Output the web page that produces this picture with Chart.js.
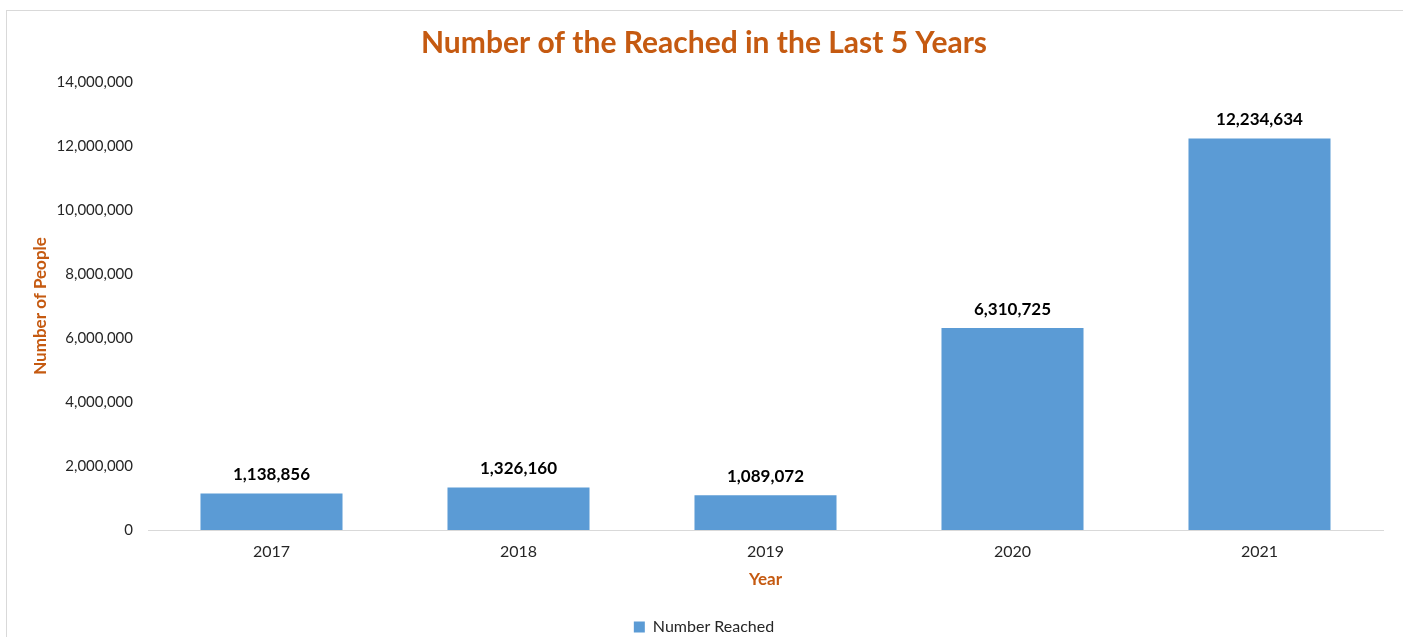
<!DOCTYPE html>
<html>
<head>
<meta charset="utf-8">
<script src="https://cdn.jsdelivr.net/npm/chart.js@4.4.0/dist/chart.umd.min.js"></script>
<style>
  html, body { margin: 0; padding: 0; background: #fff; overflow: hidden; }
  .frame { position: absolute; left: 6px; top: 10px; width: 1500px; height: 700px; border: 1px solid #d9d9d9; }
  .wrap { position: absolute; left: 0; top: 0; width: 1403px; height: 645px; }
</style>
</head>
<body>
<div class="frame"></div>
<div class="wrap"><canvas id="chart-reached"></canvas></div>
<script>
/* ── Datos ─────────────────────────────────────────── */
const years   = ['2017', '2018', '2019', '2020', '2021'];
const reached = [1138856, 1326160, 1089072, 6310725, 12234634];
const yTicks  = [0, 2000000, 4000000, 6000000, 8000000, 10000000, 12000000, 14000000];

const orange = '#C55A11', blue = '#5B9BD5', fontFam = 'Lato, "Open Sans", sans-serif';

/* ── Etiquetas encima de las barras ───────────────── */
const barLabels = {
  id: 'barLabels',
  afterDatasetsDraw(chart) {
    const ctx = chart.ctx;
    const meta = chart.getDatasetMeta(0);
    ctx.save();
    ctx.font = 'bold 17px ' + fontFam;
    ctx.fillStyle = '#000';
    ctx.textAlign = 'center';
    ctx.textBaseline = 'middle';
    meta.data.forEach((bar, i) => {
      ctx.fillText(reached[i].toLocaleString('en-US'), bar.x, bar.y - 19);
    });
    ctx.restore();
  }
};

new Chart(document.getElementById('chart-reached'), {
  type: 'bar',
  data: {
    labels: years,
    datasets: [{ label: 'Number Reached', data: reached,
      backgroundColor: blue, borderWidth: 0,
      barPercentage: 0.575, categoryPercentage: 1 }]
  },
  options: {
    responsive: true, maintainAspectRatio: false, animation: false,
    layout: { padding: { left: 25, right: 20, top: 0, bottom: 0 } },
    plugins: {
      title: { display: true, text: 'Number of the Reached in the Last 5 Years',
        color: orange, font: { family: fontFam, size: 30, weight: 'bold' },
        padding: { top: 25, bottom: 21 } },
      legend: { position: 'bottom',
        labels: { color: '#262626', font: { family: fontFam, size: 16 },
          boxWidth: 11, boxHeight: 11, padding: 2 } },
      tooltip: { enabled: false }
    },
    scales: {
      x: {
        afterFit: s => { s.height = 87; },
        grid: { display: false, drawTicks: false },
        border: { color: '#d9d9d9', width: 1 },
        ticks: { color: '#262626', font: { family: fontFam, size: 16 }, padding: 12 },
        title: { display: true, text: 'Year', color: orange,
          font: { family: fontFam, size: 17, weight: 'bold' }, padding: { top: 0, bottom: 27 } }
      },
      y: {
        min: 0, max: 14000000,
        afterBuildTicks: s => { s.ticks = yTicks.map(v => ({ value: v })); },
        afterFit: s => { s.width = 123; },
        grid: { display: false, drawTicks: false },
        border: { display: false },
        ticks: { color: '#262626', font: { family: fontFam, size: 15 }, padding: 15,
          callback: v => v.toLocaleString('en-US') },
        title: { display: true, text: 'Number of People', color: orange,
          font: { family: fontFam, size: 17, weight: 'bold' }, padding: { top: 5, bottom: 0 } }
      }
    }
  },
  plugins: [barLabels]
});
</script>
</body>
</html>
